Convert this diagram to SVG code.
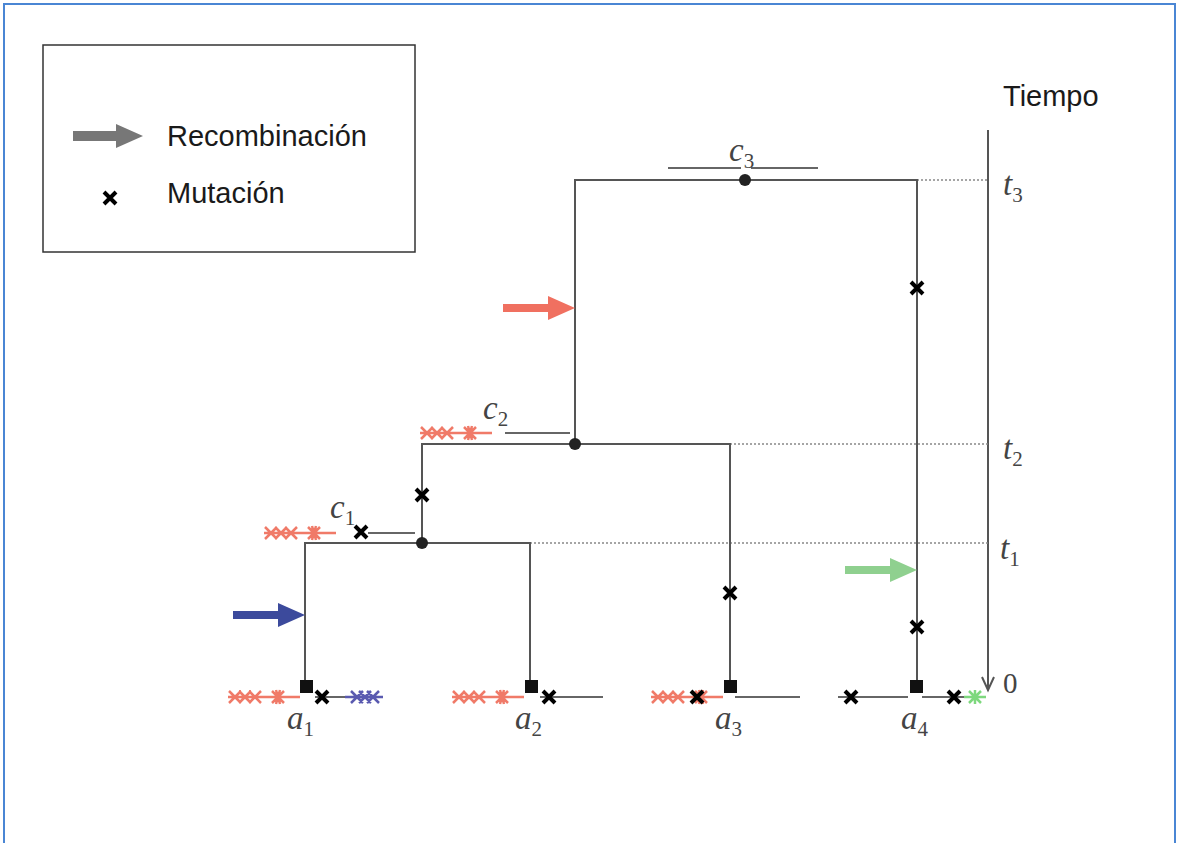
<svg xmlns="http://www.w3.org/2000/svg" xmlns:xlink="http://www.w3.org/1999/xlink" width="1178" height="843" viewBox="0 0 1178 843">
<style>
.frame{fill:none;stroke:#4a86d4;stroke-width:2}
.box{fill:#fff;stroke:#333;stroke-width:1.5}
.sans{font-family:"Liberation Sans",Arial,sans-serif;font-size:29px;fill:#1a1a1a}
.math{font-family:"Liberation Serif","Times New Roman",serif;font-style:italic;font-size:33px;fill:#444}
.sub{font-size:21px;font-style:normal}
.tree{fill:none;stroke:#555;stroke-width:2}
.seg{fill:none;stroke:#666;stroke-width:2}
.dot{fill:none;stroke:#888;stroke-width:1.5;stroke-dasharray:2 2}
.mut{fill:none;stroke:#000;stroke-width:4}
.red{fill:none;stroke:#f07a68;stroke-width:2.5}
.blue{fill:none;stroke:#5a5ab0;stroke-width:2.5}
.green{fill:none;stroke:#7ed87e;stroke-width:2.5}
.node{fill:#222}
</style>
<defs>
<path id="x" d="M-6,-6L6,6M6,-6L-6,6"/>
<path id="redgrp" d="M0,0H72M1,-6L13,6M1,6L13,-6M11,-6L23,6M11,6L23,-6M21,-6L33,6M21,6L33,-6M44,-6L56,6M44,6L56,-6M48,-7L52,7M52,-7L48,7M42,0H58"/>
<path id="bluegrp" d="M0,0H38M6,-6L18,6M6,6L18,-6M14,-6L26,6M14,6L26,-6M22,-6L34,6M22,6L34,-6"/>
<path id="greengrp" d="M0,0H22M5,-6L17,6M5,6L17,-6M11,-7V7M3,0H19"/>
</defs>
<rect id="frame" x="4" y="4" width="1171" height="850" class="frame"/>
<g id="legend">
<rect x="43" y="45" width="372" height="207" class="box"/>
<path d="M73,131H116V124L143,136L116,148V141H73Z" fill="#777"/>
<text x="167" y="146" class="sans">Recombinación</text>
<use xlink:href="#x" x="110" y="198" class="mut"/>
<text x="167" y="203" class="sans">Mutación</text>
</g>
<g id="axis">
<path d="M988,130V690M982,677L988,690L994,677" fill="none" stroke="#555" stroke-width="2"/>
<text x="1003" y="106" class="sans">Tiempo</text>
<text x="1003" y="195" class="math">t<tspan class="sub" dy="7">3</tspan></text>
<text x="1003" y="459" class="math">t<tspan class="sub" dy="7">2</tspan></text>
<text x="1000" y="559" class="math">t<tspan class="sub" dy="7">1</tspan></text>
<text x="1003" y="693" class="math" style="font-style:normal;font-size:29px">0</text>
</g>
<g id="connectors">
<path class="dot" d="M917,180H988M730,444H988M530,543H988"/>
<path class="tree" d="M575,444V180H917V686"/>
<path class="tree" d="M422,543V444H730V686"/>
<path class="tree" d="M305,686V543H530V686"/>
<path class="seg" d="M668,168H741M751,168H818"/>
<path class="seg" d="M505,433H570"/>
<path class="seg" d="M368,533H415"/>
</g>
<g id="c3">
<circle cx="745" cy="180" r="6" class="node"/>
<text x="729" y="161" class="math">c<tspan class="sub" dy="7">3</tspan></text>
</g>
<g id="c2">
<circle cx="575" cy="444" r="6" class="node"/>
<use xlink:href="#redgrp" x="420" y="433" class="red"/>
<text x="483" y="419" class="math">c<tspan class="sub" dy="7">2</tspan></text>
</g>
<g id="c1">
<circle cx="422" cy="543" r="6" class="node"/>
<use xlink:href="#redgrp" x="264" y="533" class="red"/>
<use xlink:href="#x" x="361" y="532" class="mut"/>
<text x="330" y="518" class="math">c<tspan class="sub" dy="7">1</tspan></text>
</g>
<g id="mutations">
<use xlink:href="#x" x="422" y="495" class="mut"/>
<use xlink:href="#x" x="917" y="288" class="mut"/>
<use xlink:href="#x" x="917" y="627" class="mut"/>
<use xlink:href="#x" x="730" y="593" class="mut"/>
</g>
<g id="recombinations">
<path d="M503,304H548V296L575,308L548,320V312H503Z" fill="#f07060"/>
<path d="M233,611H278V603L305,615L278,627V619H233Z" fill="#3c4a9c"/>
<path d="M845,566H890V558L917,570L890,582V574H845Z" fill="#8fd08f"/>
</g>
<g id="a1">
<use xlink:href="#redgrp" x="228" y="697" class="red"/>
<path class="seg" d="M315,697H345"/>
<use xlink:href="#bluegrp" x="345" y="697" class="blue"/>
<use xlink:href="#x" x="322" y="697" class="mut"/>
<rect x="300" y="680" width="13" height="13" fill="#111"/>
<text x="287" y="729" class="math">a<tspan class="sub" dy="7">1</tspan></text>
</g>
<g id="a2">
<use xlink:href="#redgrp" x="452" y="697" class="red"/>
<path class="seg" d="M540,697H603"/>
<use xlink:href="#x" x="549" y="697" class="mut"/>
<rect x="525" y="680" width="13" height="13" fill="#111"/>
<text x="515" y="729" class="math">a<tspan class="sub" dy="7">2</tspan></text>
</g>
<g id="a3">
<use xlink:href="#redgrp" x="651" y="697" class="red"/>
<use xlink:href="#x" x="697" y="697" class="mut"/>
<path class="seg" d="M735,697H800"/>
<rect x="724" y="680" width="13" height="13" fill="#111"/>
<text x="715" y="729" class="math">a<tspan class="sub" dy="7">3</tspan></text>
</g>
<g id="a4">
<path class="seg" d="M838,697H908M922,697H966"/>
<use xlink:href="#x" x="851" y="697" class="mut"/>
<use xlink:href="#x" x="954" y="697" class="mut"/>
<use xlink:href="#greengrp" x="964" y="697" class="green"/>
<rect x="910" y="680" width="13" height="13" fill="#111"/>
<text x="901" y="729" class="math">a<tspan class="sub" dy="7">4</tspan></text>
</g>
</svg>
